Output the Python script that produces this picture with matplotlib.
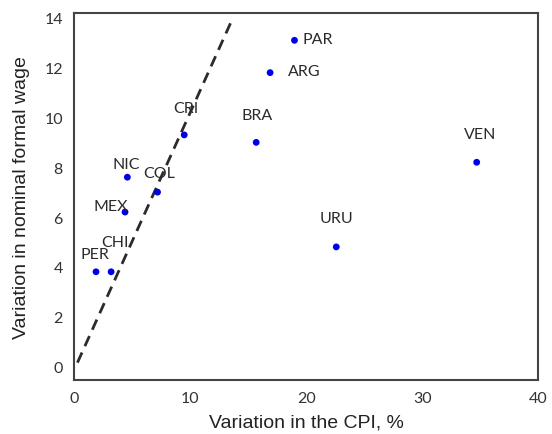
import matplotlib
matplotlib.use("Agg")
import matplotlib.pyplot as plt

countries = ["PER", "CHI", "MEX", "NIC", "COL", "CRI", "BRA", "ARG", "PAR", "VEN", "URU"]
cpi = [1.9, 3.2, 4.4, 4.6, 7.2, 9.5, 15.7, 16.9, 19.0, 34.7, 22.6]
wage = [3.8, 3.8, 6.2, 7.6, 7.0, 9.3, 9.0, 11.8, 13.1, 8.2, 4.8]
label_x = [1.8, 3.5, 3.15, 4.5, 7.3, 9.6, 15.8, 19.85, 21.0, 35.0, 22.6]
label_y = [4.5, 5.0, 6.45, 8.15, 7.75, 10.4, 10.1, 11.85, 13.15, 9.35, 5.95]
line_x = [0.3, 13.5]
line_y = [0.15, 13.8]
xticks = [0, 10, 20, 30, 40]
yticks = [0, 2, 4, 6, 8, 10, 12, 14]

fig = plt.figure(figsize=(5.52, 4.35), dpi=100)
ax = fig.add_axes([0.134, 0.124, 0.841, 0.844])

ax.plot(line_x, line_y, linestyle=(0, (4, 2.5)), color="#2b2b2b", linewidth=2.0)
ax.scatter(cpi, wage, s=24, color="#0000e6", zorder=3, edgecolors="none")
for name, lx, ly in zip(countries, label_x, label_y):
    ax.text(lx, ly, name, ha="center", va="center", fontsize=11.5,
            family="Lato", color="#2a2a2a")

ax.set_xlim(0, 40)
ax.set_ylim(-0.55, 14.2)
ax.set_xticks(xticks)
ax.set_yticks(yticks)
ax.tick_params(length=0, labelsize=11.5, colors="#333333", pad=8)
for lab in ax.get_xticklabels() + ax.get_yticklabels():
    lab.set_family("Lato")
for sp in ax.spines.values():
    sp.set_color("#444444")
    sp.set_linewidth(1.5)

ax.set_xlabel("Variation in the CPI, %", fontsize=14, family="Liberation Sans",
              color="#222222", labelpad=6)
ax.set_ylabel("Variation in nominal formal wage", fontsize=14,
              family="Liberation Sans", color="#222222", labelpad=10)

fig.savefig("out.png", dpi=100)
